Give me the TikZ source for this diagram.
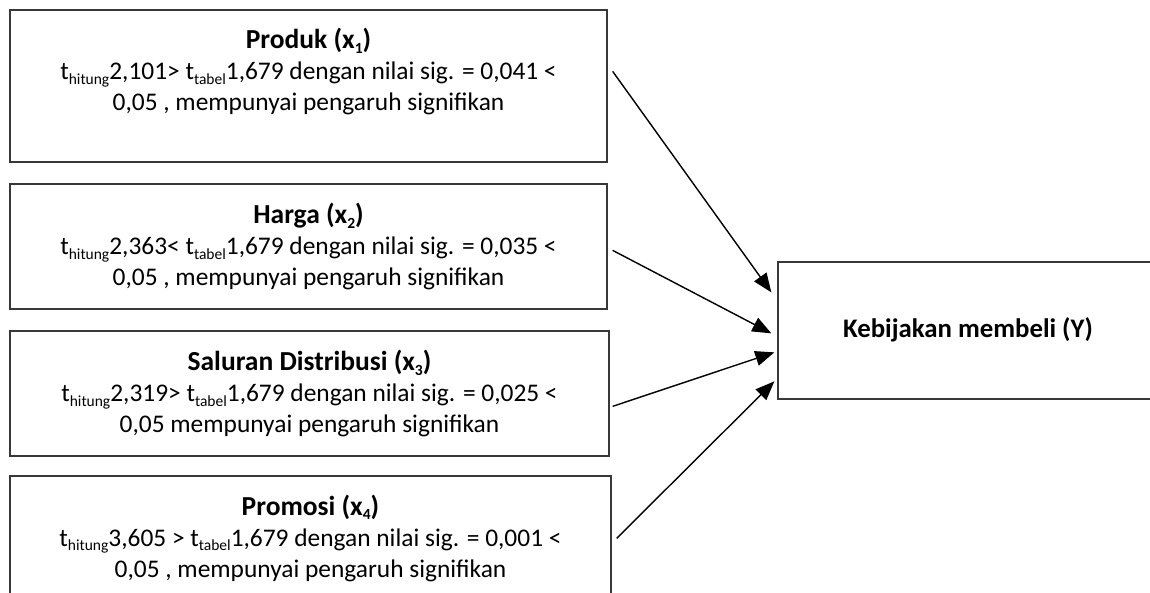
\documentclass[tikz,border=0pt]{standalone}
\usepackage{fontspec}
\setmainfont{Carlito}
\usetikzlibrary{arrows.meta}
\newcommand\sbs[1]{\raisebox{-0.18em}{\fontsize{15.5}{15.5}\selectfont #1}}
\newcommand\ttl[1]{{\fontsize{27.5}{31}\selectfont\bfseries #1}}
\tikzset{
  box/.style={draw=black!78, line width=1.3pt, minimum width=597pt, align=center,
    inner sep=0pt, font=\fontsize{25.4}{31}\selectfont},
  ybox/.style={draw=black!78, line width=1.3pt, inner sep=0pt},
  ylabel/.style={font=\fontsize{26.8}{31}\selectfont\bfseries, inner sep=0pt},
  arr/.style={-{Triangle[length=19pt,width=15pt]}, line width=1.4pt, black}
}
\begin{document}
\begin{tikzpicture}[x=1pt,y=-1pt]
\clip (0,0) rectangle (1150,592);
\fill[white] (0,0) rectangle (1150,592);
\node[box, minimum height=152pt] (b1) at (308.5,86) {\ttl{Produk (x\sbs{1})}\\
t\sbs{hitung}2,101> t\sbs{tabel}1,679 dengan nilai sig. = 0,041 <\\
0,05 , mempunyai pengaruh signifikan\\[2pt] \mbox{}};
\node[box, minimum height=125pt] (b2) at (308.5,246.5) {\ttl{Harga (x\sbs{2})}\\
t\sbs{hitung}2,363< t\sbs{tabel}1,679 dengan nilai sig. = 0,035 <\\
0,05 , mempunyai pengaruh signifikan};
\node[box, minimum width=599pt, minimum height=125pt] (b3) at (309.5,393.5) {\ttl{Saluran Distribusi (x\sbs{3})}\\
t\sbs{hitung}2,319> t\sbs{tabel}1,679 dengan nilai sig. = 0,025 <\\
0,05 mempunyai pengaruh signifikan};
\node[box, minimum width=601pt, minimum height=124pt] (b4) at (310.5,538) {\ttl{Promosi (x\sbs{4})}\\
t\sbs{hitung}3,605 > t\sbs{tabel}1,679 dengan nilai sig. = 0,001 <\\
0,05 , mempunyai pengaruh signifikan};
\node[ybox, minimum width=400pt, minimum height=137pt] (Y) at (978,330.5) {};
\node[ylabel] (Yt) at (968,330) {Kebijakan membeli (Y)};
\coordinate (s1) at ([shift={(5,62)}]b1.north east);
\coordinate (s2) at ([shift={(5,67)}]b2.north east);
\coordinate (s3) at ([shift={(3,76)}]b3.north east);
\coordinate (s4) at ([shift={(5,63)}]b4.north east);
\coordinate (t1) at ([shift={(-6,31)}]Y.north west);
\coordinate (t2) at ([shift={(-6,72)}]Y.north west);
\coordinate (t3) at ([shift={(-3,91)}]Y.north west);
\coordinate (t4) at ([shift={(-3,120)}]Y.north west);
\draw[arr] (s1) -- (t1);
\draw[arr] (s2) -- (t2);
\draw[arr] (s3) -- (t3);
\draw[arr] (s4) -- (t4);
\end{tikzpicture}
\end{document}
